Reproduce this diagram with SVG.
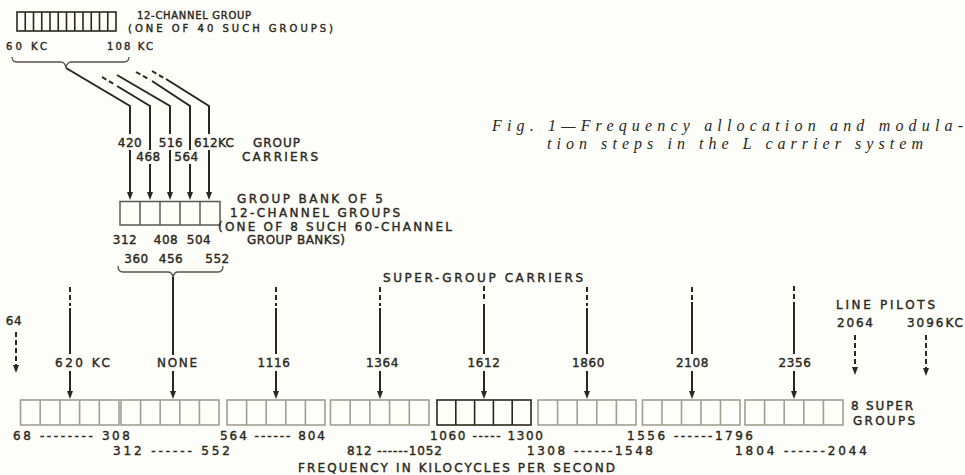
<svg xmlns="http://www.w3.org/2000/svg" width="965" height="475" viewBox="0 0 965 475">
<defs>
<marker id="ah" viewBox="0 0 8 6" refX="5" refY="3" markerWidth="8" markerHeight="6" markerUnits="userSpaceOnUse" orient="auto">
<path d="M0,0 L8,3 L0,6 z" fill="#2a281c"/>
</marker>
</defs>
<style>
.t{font-family:"DejaVu Sans",sans-serif;font-size:12px;fill:#2a281c;stroke:#2a281c;stroke-width:0.4}
.n{letter-spacing:0.6px;text-anchor:middle}
.ts{font-size:10px}
.cap{font-family:"Liberation Serif",serif;font-style:italic;font-size:16px;fill:#2a281c}
.ln{stroke:#2a281c;stroke-width:2;fill:none}
.dl{stroke:#2a281c;stroke-width:2;fill:none;stroke-dasharray:5 3}
.ar{marker-end:url(#ah)}
.br{stroke:#55534a;stroke-width:1.3;fill:none}
.bx{fill:none;stroke:#2a281c;stroke-width:1.6}
.bm{fill:none;stroke:#5a5850;stroke-width:1.5}
.bl{fill:none;stroke:#a09f92;stroke-width:1.6}
</style>
<rect width="965" height="475" fill="#fdfdf9"/>

<g id="channel-group">
<rect class="bx" x="17" y="12" width="99" height="19"/>
<path class="bx" d="M25.25,12V31M33.5,12V31M41.75,12V31M50,12V31M58.25,12V31M66.5,12V31M74.75,12V31M83,12V31M91.25,12V31M99.5,12V31M107.75,12V31"/>
<text class="t ts" x="137" y="19" textLength="114" lengthAdjust="spacing">12-CHANNEL GROUP</text>
<text class="t ts" x="128" y="32" textLength="205" lengthAdjust="spacing">(ONE OF 40 SUCH GROUPS)</text>
<text class="t ts" x="6" y="50" textLength="41" lengthAdjust="spacing">60 KC</text>
<text class="t ts" x="107" y="50" textLength="46" lengthAdjust="spacing">108 KC</text>
<path class="br" d="M12,57 Q12,62 17,62 L61,62 Q65,62 66,68 Q67,62 71,62 L124,62 Q129,62 129,57"/>
</g>

<g id="group-carriers">
<text class="t n" x="130" y="147">420</text>
<text class="t n" x="171" y="147">516</text>
<text class="t" x="194" y="147" textLength="40" lengthAdjust="spacing">612KC</text>
<text class="t n" x="148.5" y="161">468</text>
<text class="t n" x="186.5" y="161">564</text>
<text class="t" x="253" y="147" textLength="47" lengthAdjust="spacing">GROUP</text>
<text class="t" x="242" y="161" textLength="76" lengthAdjust="spacing">CARRIERS</text>
</g>

<g id="group-bank">
<rect class="bm" x="120" y="201.5" width="100" height="23.5"/>
<path class="bm" d="M140,201.5V225M160,201.5V225M180,201.5V225M200,201.5V225"/>
<text class="t" x="237" y="203" textLength="146" lengthAdjust="spacing">GROUP BANK OF 5</text>
<text class="t" x="230" y="217" textLength="170" lengthAdjust="spacing">12-CHANNEL GROUPS</text>
<text class="t" x="218" y="231" textLength="234" lengthAdjust="spacing">(ONE OF 8 SUCH 60-CHANNEL</text>
<text class="t" x="247" y="244" textLength="98" lengthAdjust="spacing">GROUP BANKS)</text>
<text class="t n" x="125" y="244">312</text>
<text class="t n" x="166" y="244">408</text>
<text class="t n" x="199" y="244">504</text>
<text class="t n" x="136.5" y="263">360</text>
<text class="t n" x="171" y="263">456</text>
<text class="t n" x="217.5" y="263">552</text>
<path class="br" d="M118,266 Q118,272 123,272 L168,272 Q172,272 173,277 Q174,272 178,272 L218,272 Q223,272 223,266"/>
</g>

<g id="caption">
<text class="cap" x="492" y="131" textLength="471" lengthAdjust="spacing">Fig. 1—Frequency allocation and modula-</text>
<text class="cap" x="547" y="149" textLength="376" lengthAdjust="spacing">tion steps in the L carrier system</text>
</g>

<g id="supergroup-labels">
<text class="t" x="383" y="282" textLength="200" lengthAdjust="spacing">SUPER-GROUP CARRIERS</text>
<text class="t" x="55" y="367" textLength="55" lengthAdjust="spacing">620 KC</text>
<text class="t" x="177" y="367" text-anchor="middle" textLength="40" lengthAdjust="spacing">NONE</text>
<text class="t n" x="274" y="367">1116</text>
<text class="t n" x="382.5" y="367">1364</text>
<text class="t n" x="484" y="367">1612</text>
<text class="t n" x="588.5" y="367">1860</text>
<text class="t n" x="692.5" y="367">2108</text>
<text class="t n" x="795" y="367">2356</text>
<text class="t n" x="14" y="325">64</text>
<text class="t" x="836" y="309" textLength="99" lengthAdjust="spacing">LINE PILOTS</text>
<text class="t" x="837" y="327" textLength="36" lengthAdjust="spacing">2064</text>
<text class="t" x="907" y="327" textLength="56" lengthAdjust="spacing">3096KC</text>
</g>

<g id="sg1"><rect class="bl" x="20.5" y="400" width="98.5" height="25"/><path class="bl" d="M40.2,400V425M59.9,400V425M79.6,400V425M99.3,400V425"/></g>
<g id="sg2"><rect class="bl" x="121" y="400" width="98" height="25"/><path class="bl" d="M140.6,400V425M160.2,400V425M179.8,400V425M199.4,400V425"/></g>
<g id="sg3"><rect class="bl" x="227" y="400" width="98" height="25"/><path class="bl" d="M246.6,400V425M266.2,400V425M285.8,400V425M305.4,400V425"/></g>
<g id="sg4"><rect class="bl" x="330.5" y="400" width="98.5" height="25"/><path class="bl" d="M350.2,400V425M369.9,400V425M389.6,400V425M409.3,400V425"/></g>
<g id="sg5"><rect class="bx" x="437" y="400" width="94" height="25"/><path class="bx" d="M455.8,400V425M474.6,400V425M493.4,400V425M512.2,400V425"/></g>
<g id="sg6"><rect class="bl" x="538" y="400" width="98" height="25"/><path class="bl" d="M557.6,400V425M577.2,400V425M596.8,400V425M616.4,400V425"/></g>
<g id="sg7"><rect class="bl" x="642.5" y="400" width="97.5" height="25"/><path class="bl" d="M662,400V425M681.5,400V425M701,400V425M720.5,400V425"/></g>
<g id="sg8"><rect class="bl" x="745" y="400" width="98" height="25"/><path class="bl" d="M764.6,400V425M784.2,400V425M803.8,400V425M823.4,400V425"/></g>
<g id="sg-label">
<text class="t" x="851" y="410" textLength="62" lengthAdjust="spacing">8 SUPER</text>
<text class="t" x="853" y="425" textLength="62" lengthAdjust="spacing">GROUPS</text>
</g>

<g id="ranges">
<text class="t" x="13" y="440" textLength="117" lengthAdjust="spacing">68 -------- 308</text>
<text class="t" x="220" y="440" textLength="105" lengthAdjust="spacing">564 ------ 804</text>
<text class="t" x="430" y="440" textLength="113" lengthAdjust="spacing">1060 ----- 1300</text>
<text class="t" x="627" y="440" textLength="126" lengthAdjust="spacing">1556 ------1796</text>
<text class="t" x="113" y="455" textLength="117" lengthAdjust="spacing">312 ------ 552</text>
<text class="t" x="347" y="455" textLength="95" lengthAdjust="spacing">812 ------1052</text>
<text class="t" x="527" y="455" textLength="126" lengthAdjust="spacing">1308 ------1548</text>
<text class="t" x="735" y="455" textLength="132" lengthAdjust="spacing">1804 ------2044</text>
<text class="t" x="298" y="472" textLength="317" lengthAdjust="spacing">FREQUENCY IN KILOCYCLES PER SECOND</text>
</g>

<g id="connectors">
<path class="ln" d="M66,68 L130,106 V134"/>
<path class="ln ar" d="M130,150 V197"/>
<path class="dl" d="M102,77 L114,84"/>
<path class="ln" d="M117,86 L150,106 V150"/>
<path class="ln ar" d="M150,164 V197"/>
<path class="ln" d="M117,75 L170,106 V134"/>
<path class="ln ar" d="M170,150 V197"/>
<path class="dl" d="M136,72 L150,80"/>
<path class="ln" d="M152,81 L190,106 V150"/>
<path class="ln ar" d="M190,164 V197"/>
<path class="dl" d="M152,71 L164,78"/>
<path class="ln" d="M166,79 L209,106 V134"/>
<path class="ln ar" d="M209,150 V197"/>
<path class="ln" d="M173,277 V355"/>
<path class="ln ar" d="M173,371 V396"/>
<path class="dl" d="M70,287 V306"/><path class="ln" d="M70,308 V354"/><path class="ln ar" d="M70,371 V396"/>
<path class="dl" d="M276,287 V306"/><path class="ln" d="M276,308 V354"/><path class="ln ar" d="M276,371 V396"/>
<path class="dl" d="M380,287 V306"/><path class="ln" d="M380,308 V354"/><path class="ln ar" d="M380,371 V396"/>
<path class="dl" d="M484,286 V302"/><path class="ln" d="M484,304 V354"/><path class="ln ar" d="M484,371 V396"/>
<path class="dl" d="M587,287 V306"/><path class="ln" d="M587,308 V354"/><path class="ln ar" d="M587,371 V396"/>
<path class="dl" d="M692,287 V300"/><path class="ln" d="M692,302 V354"/><path class="ln ar" d="M692,371 V396"/>
<path class="dl" d="M794,286 V300"/><path class="ln" d="M794,302 V354"/><path class="ln ar" d="M794,371 V396"/>
<path class="dl ar" d="M16,332 V370"/>
<path class="dl ar" d="M855,335 V372"/>
<path class="dl ar" d="M926,335 V373"/>
</g>
</svg>
